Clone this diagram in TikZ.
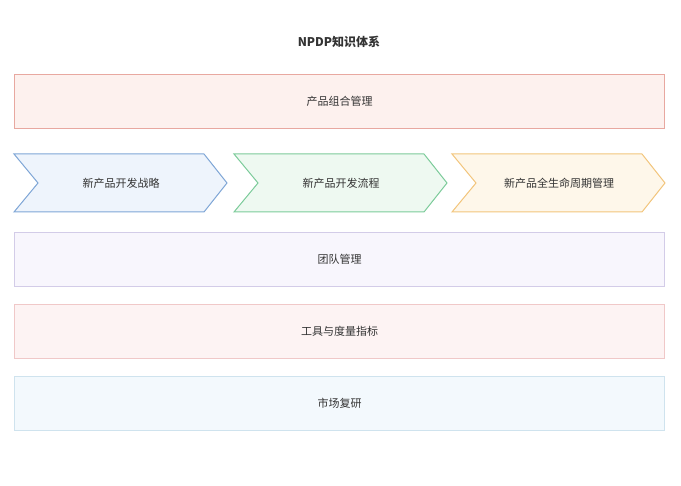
\documentclass[tikz,border=0pt]{standalone}
\usepackage{fontspec}
\setmainfont{Noto Sans CJK SC}
\usetikzlibrary{positioning}
\definecolor{redline}{HTML}{E8A8A0}
\definecolor{redfill}{HTML}{FDF1EE}
\definecolor{blueline}{HTML}{7FA6D6}
\definecolor{bluefill}{HTML}{EEF4FC}
\definecolor{greenline}{HTML}{7CCB9A}
\definecolor{greenfill}{HTML}{EEF9F1}
\definecolor{orangeline}{HTML}{F2C57C}
\definecolor{orangefill}{HTML}{FEF7EA}
\definecolor{purpleline}{HTML}{D3CCE8}
\definecolor{purplefill}{HTML}{F8F6FD}
\definecolor{pinkline}{HTML}{F0C8C8}
\definecolor{pinkfill}{HTML}{FDF3F3}
\definecolor{skyline}{HTML}{CFE3EE}
\definecolor{skyfill}{HTML}{F3F9FD}
\definecolor{textgray}{HTML}{333333}
\begin{document}
\begin{tikzpicture}[x=1pt, y=-1pt,
    layer/.style={draw=#1line, fill=#1fill, line width=1pt, minimum width=650pt, minimum height=54pt, anchor=north west, font=\fontsize{11}{13}\selectfont, text=textgray},
    chevtext/.style={font=\fontsize{11}{13}\selectfont, text=textgray}]
    \useasboundingbox (0,0) rectangle (681,486);
    % Title
    \node[font=\bfseries\fontsize{12}{14}\selectfont, text=textgray] (title) at (339,42) {NPDP知识体系};
    % Layers
    \node[layer=red] (portfolio) at (14,74) {产品组合管理};
    \node[layer=purple] (team) at (14,232) {团队管理};
    \node[layer=pink] (tools) at (14,304) {工具与度量指标};
    \node[layer=sky] (market) at (14,376) {市场复研};
    % Chevrons
    \foreach \x/\c/\name/\txt in {14/blue/strategy/新产品开发战略, 234/green/process/新产品开发流程, 452/orange/lifecycle/新产品全生命周期管理} {
      \draw[draw=\c line, fill=\c fill, line width=1pt]
        (\x,154) -- (\x+190,154) -- (\x+213,183) -- (\x+190,212) -- (\x,212) -- (\x+24,183) -- cycle;
      \node[chevtext] (\name) at (\x+107,183) {\txt};
    }
\end{tikzpicture}
\end{document}
